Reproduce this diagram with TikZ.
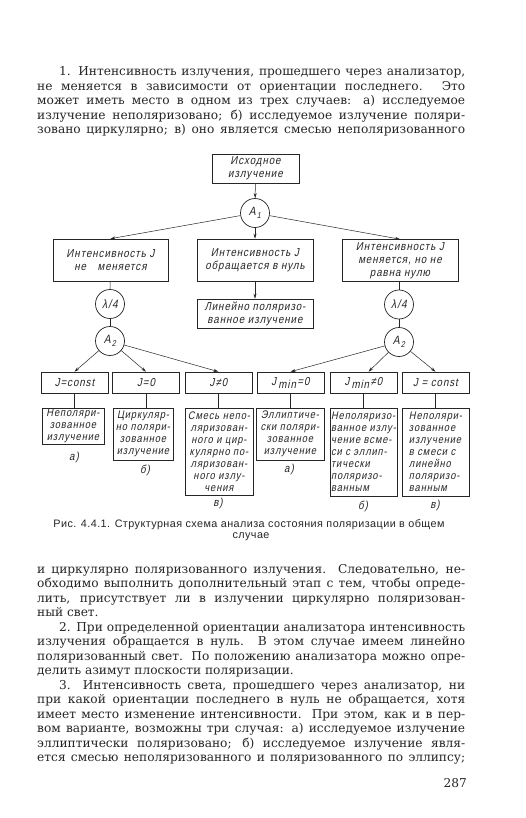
\documentclass[tikz,border=0pt]{standalone}
\usepackage{fontspec}
\setmainfont{DejaVu Serif}
\newfontfamily\draftfont[FakeSlant=0.2,FakeStretch=0.85,LetterSpace=8]{Liberation Sans}
\newfontfamily\capfont[LetterSpace=4]{Liberation Sans}
\usetikzlibrary{arrows.meta}
\newcommand\fullline[1]{\makebox[428pt][s]{#1}}
\newcommand\indline[1]{\makebox[406pt][s]{#1}}
\newcommand\subidx[1]{\kern1.2pt\raisebox{-3pt}{\fontsize{8.5}{8.5}\selectfont #1}}
\newcommand\jmin{J\kern2pt\raisebox{-3pt}{min}\kern1.5pt}
\begin{document}
\begin{tikzpicture}[x=1pt,y=-1pt,
  body/.style={anchor=base west, inner sep=0pt, text=black!85, font=\fontsize{12.2}{14.5}\selectfont},
  capt/.style={anchor=base, inner sep=0pt, text=black!85, font=\capfont\fontsize{10.8}{11}\selectfont},
  box/.style={draw=black!85, line width=0.6pt, inner sep=1pt, text=black!85, font=\draftfont\fontsize{11.5}{13}\selectfont, align=center},
  dbox/.style={box, font=\draftfont\fontsize{11}{12}\selectfont},
  circ/.style={draw=black!85, circle, minimum size=29pt, inner sep=0pt, line width=0.7pt, text=black!85, font=\draftfont\fontsize{12}{12}\selectfont},
  lab/.style={inner sep=0pt, text=black!85, font=\draftfont\fontsize{11.5}{12}\selectfont},
  arr/.style={draw=black!85, line width=0.5pt, -{Stealth[length=5pt,width=3pt]}},
  ln/.style={draw=black!85, line width=0.5pt}
]
\useasboundingbox (0,0) rectangle (525,818);
\fill[white] (0,0) rectangle (525,818);

% ---- top paragraph
\node[body] (t1) at (59,76)    {\indline{1. Интенсивность излучения, прошедшего через анализатор,}};
\node[body] (t2) at (37,90.5)  {\fullline{не меняется в зависимости от ориентации последнего. Это}};
\node[body] (t3) at (37,105)   {\fullline{может иметь место в одном из трех случаев: а) исследуемое}};
\node[body] (t4) at (37,119.5) {\fullline{излучение неполяризовано; б) исследуемое излучение поляри-}};
\node[body] (t5) at (37,134)   {\fullline{зовано циркулярно; в) оно является смесью неполяризованного}};

% ---- diagram
\node[box, minimum width=87pt, minimum height=29pt] (src) at (255.5,168.5) {Исходное\\излучение};
\node[circ] (A1) at (255,213) {A\subidx{1}};

\node[box, minimum width=115pt, minimum height=42pt] (L1) at (110.5,260) {Интенсивность J\\не\quad меняется};
\node[box, minimum width=116pt, minimum height=42pt] (M1) at (255,260) {Интенсивность J\\обращается в нуль};
\node[box, minimum width=116pt, minimum height=42pt] (R1) at (400,260.5) {Интенсивность J\\меняется, но не\\равна нулю};
\node[box, minimum width=116pt, minimum height=29pt] (M2) at (255,313.5) {Линейно поляризо-\\ванное излучение};

\node[circ] (qL) at (110,304) {λ/4};
\node[circ] (qR) at (399,304.5) {λ/4};
\node[circ] (A2L) at (110,341) {A\subidx{2}};
\node[circ] (A2R) at (399,342) {A\subidx{2}};

\node[box, minimum width=67pt, minimum height=21pt] (J1) at (74.5,382.5)  {J=const};
\node[box, minimum width=67pt, minimum height=21pt] (J2) at (146,382.5)   {J=0};
\node[box, minimum width=67pt, minimum height=21pt] (J3) at (218.5,382.5) {J≠0};
\node[box, minimum width=67pt, minimum height=21pt] (J4) at (290.5,382.5) {\jmin=0};
\node[box, minimum width=67pt, minimum height=21pt] (J5) at (363.5,382.5) {\jmin≠0};
\node[box, minimum width=67pt, minimum height=21pt] (J6) at (435.5,382.5) {J = const};

\node[dbox, minimum width=62pt, minimum height=36pt] (D1) at (73,426) {Неполяри-\\зованное\\излучение};
\node[dbox, minimum width=60pt, minimum height=52pt] (D2) at (143,434) {Циркуляр-\\но поляри-\\зованное\\излучение};
\node[dbox, minimum width=68pt, minimum height=87pt] (D3) at (219,451.5) {Смесь непо-\\ляризован-\\ного и цир-\\кулярно по-\\ляризован-\\ного излу-\\чения};
\node[dbox, minimum width=68pt, minimum height=52pt] (D4) at (290,434) {Эллиптиче-\\ски поляри-\\зованное\\излучение};
\node[dbox, minimum width=67pt, minimum height=88pt, align=left] (D5) at (363.5,452) {Неполяризо-\\ванное излу-\\чение всме-\\си с эллип-\\тически\\поляризо-\\ванным};
\node[dbox, minimum width=67pt, minimum height=88pt, align=left] (D6) at (435.5,452) {Неполяри-\\зованное\\излучение\\в смеси с\\линейно\\поляризо-\\ванным};

\node[lab] (la1) at (74,458) {а)};
\node[lab] (la2) at (145,470) {б)};
\node[lab] (la3) at (218,504) {в)};
\node[lab] (la4) at (289,470) {а)};
\node[lab] (la5) at (363,506) {б)};
\node[lab] (la6) at (435,506) {в)};

% connectors
\draw[arr] (src) -- (A1);
\draw[arr] (A1) -- (L1.north);
\draw[arr] (A1) -- (M1);
\draw[arr] (A1) -- (R1.north);
\draw[arr] (M1) -- (M2);
\draw[ln] (L1) -- (qL);
\draw[ln] (qL) -- (A2L);
\draw[ln] (R1.south -| qR) -- (qR);
\draw[ln] (qR) -- (A2R);
\draw[arr] (A2L) -- (J1.north);
\draw[arr] (A2L) -- (J2.north);
\draw[arr] (A2L) -- (J3.north);
\draw[arr] (A2R) -- (J4.north);
\draw[arr] (A2R) -- ([xshift=5pt]J5.north);
\draw[arr] (A2R) -- (J6.north);
\foreach \j/\d in {J1/D1,J2/D2,J3/D3,J4/D4,J5/D5,J6/D6}
  \draw[ln] (\j.south) -- (\j.south |- \d.north);

% caption
\node[capt] (c1) at (249,527) {Рис. 4.4.1. Структурная схема анализа состояния поляризации в общем};
\node[capt] (c2) at (251,538.5) {случае};

% ---- lower text
\node[body] (b1) at (37,573)    {\fullline{и циркулярно поляризованного излучения. Следовательно, не-}};
\node[body] (b2) at (37,587.5)  {\fullline{обходимо выполнить дополнительный этап с тем, чтобы опреде-}};
\node[body] (b3) at (37,602)    {\fullline{лить, присутствует ли в излучении циркулярно поляризован-}};
\node[body] (b4) at (37,616.5)  {ный свет.};
\node[body] (b5) at (59,631)    {\indline{2. При определенной ориентации анализатора интенсивность}};
\node[body] (b6) at (37,645.5)  {\fullline{излучения обращается в нуль. В этом случае имеем линейно}};
\node[body] (b7) at (37,660)    {\fullline{поляризованный свет. По положению анализатора можно опре-}};
\node[body] (b8) at (37,674.5)  {делить азимут плоскости поляризации.};
\node[body] (b9) at (59,689)    {\indline{3. Интенсивность света, прошедшего через анализатор, ни}};
\node[body] (b10) at (37,703.5) {\fullline{при какой ориентации последнего в нуль не обращается, хотя}};
\node[body] (b11) at (37,718)   {\fullline{имеет место изменение интенсивности. При этом, как и в пер-}};
\node[body] (b12) at (37,732.5) {\fullline{вом варианте, возможны три случая: а) исследуемое излучение}};
\node[body] (b13) at (37,747)   {\fullline{эллиптически поляризовано; б) исследуемое излучение явля-}};
\node[body] (b14) at (37,761.5) {\fullline{ется смесью неполяризованного и поляризованного по эллипсу;}};
\node[body, anchor=base east] (pg) at (467,787) {287};
\end{tikzpicture}
\end{document}
